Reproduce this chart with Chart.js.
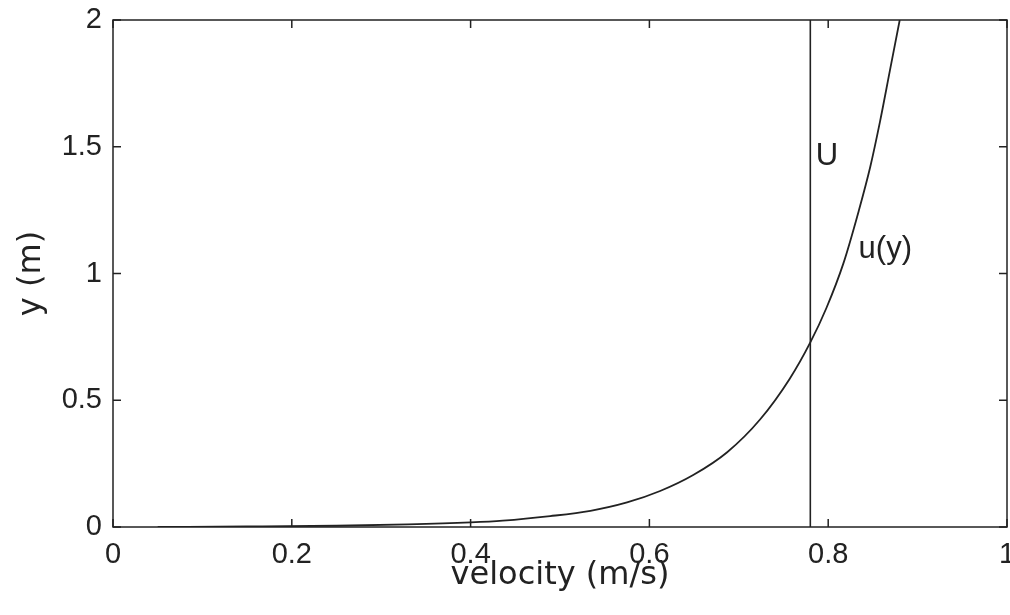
<!DOCTYPE html>
<html>
<head>
<meta charset="utf-8">
<script src="https://cdn.jsdelivr.net/npm/chart.js@4"></script>
<style>
  html, body { margin: 0; padding: 0; background: #fff; }
  #wrap { width: 1010px; height: 615px; }
</style>
</head>
<body>
<div id="wrap"><canvas id="velChart"></canvas></div>
<script>
// values
const velocity = [0.05, 0.15, 0.25, 0.33, 0.40, 0.436, 0.489, 0.534, 0.575, 0.612, 0.649, 0.687, 0.724, 0.757, 0.780, 0.798, 0.817, 0.834, 0.847, 0.858, 0.869, 0.880];
const height = [0.000, 0.002, 0.005, 0.010, 0.018, 0.025, 0.043, 0.064, 0.097, 0.142, 0.205, 0.295, 0.425, 0.585, 0.728, 0.864, 1.04, 1.245, 1.42, 1.60, 1.80, 2.0];
const freeStream = 0.780;
const yRange = [0, 2];
const xTicks = [0, 0.2, 0.4, 0.6, 0.8, 1];
const yTicks = [0, 0.5, 1, 1.5, 2];
const annotations = [
    { text: 'U', x: 0.786, y: 1.428 },
    { text: 'u(y)', x: 0.834, y: 1.061 }
];

const INK = '#222';

// MATLAB-style frame with inward ticks on every side
const framePlugin = {
    id: 'frame',
    afterDatasetsDraw(chart) {
        const { ctx, chartArea: a, scales } = chart;
        ctx.save();
        ctx.strokeStyle = INK;
        ctx.lineWidth = 1.5;
        ctx.strokeRect(a.left, a.top, a.right - a.left, a.bottom - a.top);
        ctx.beginPath();
        xTicks.forEach(v => {
            const px = scales.x.getPixelForValue(v);
            ctx.moveTo(px, a.bottom); ctx.lineTo(px, a.bottom - 8);
            ctx.moveTo(px, a.top); ctx.lineTo(px, a.top + 8);
        });
        yTicks.forEach(v => {
            const py = scales.y.getPixelForValue(v);
            ctx.moveTo(a.left, py); ctx.lineTo(a.left + 8, py);
            ctx.moveTo(a.right, py); ctx.lineTo(a.right - 8, py);
        });
        ctx.stroke();

        ctx.fillStyle = INK;
        ctx.font = '31px "Liberation Sans", Arial, sans-serif';
        ctx.textAlign = 'left';
        ctx.textBaseline = 'alphabetic';
        annotations.forEach(t => {
            ctx.fillText(t.text, scales.x.getPixelForValue(t.x), scales.y.getPixelForValue(t.y));
        });
        ctx.restore();
    }
};

function zeroPad(scale) {
    scale.paddingLeft = 0;
    scale.paddingRight = 0;
    scale.paddingTop = 0;
    scale.paddingBottom = 0;
}

const tickFont = { family: '"Liberation Sans", Arial, sans-serif', size: 29 };
const titleFont = { family: '"DejaVu Sans", sans-serif', size: 32 };

new Chart(document.getElementById('velChart'), {
    type: 'line',
    data: {
        datasets: [
            {
                label: 'u(y)',
                data: velocity.map((v, i) => ({ x: v, y: height[i] })),
                borderColor: INK,
                borderWidth: 1.8,
                pointRadius: 0,
                cubicInterpolationMode: 'monotone',
                fill: false
            },
            {
                label: 'U',
                data: yRange.map(y => ({ x: freeStream, y: y })),
                borderColor: INK,
                borderWidth: 1.6,
                pointRadius: 0,
                fill: false
            }
        ]
    },
    options: {
        responsive: true,
        maintainAspectRatio: false,
        animation: false,
        layout: { padding: { top: 20, right: 3, left: 0, bottom: 0 } },
        plugins: {
            legend: { display: false },
            tooltip: { enabled: false }
        },
        scales: {
            x: {
                type: 'linear',
                min: 0,
                max: 1,
                afterBuildTicks: (scale) => { scale.ticks = xTicks.map(v => ({ value: v })); },
                afterFit: (scale) => { scale.height = 88; zeroPad(scale); },
                border: { display: false },
                grid: { display: false, drawTicks: false },
                ticks: {
                    color: INK,
                    font: tickFont,
                    padding: 11,
                    maxRotation: 0,
                    callback: (v) => String(v)
                },
                title: {
                    display: true,
                    text: 'velocity (m/s)',
                    color: INK,
                    font: titleFont,
                    padding: { top: 0, bottom: 20 }
                }
            },
            y: {
                type: 'linear',
                min: 0,
                max: 2,
                afterBuildTicks: (scale) => { scale.ticks = yTicks.map(v => ({ value: v })); },
                afterFit: (scale) => { scale.width = 113; zeroPad(scale); },
                border: { display: false },
                grid: { display: false, drawTicks: false },
                ticks: {
                    color: INK,
                    font: tickFont,
                    padding: 11,
                    callback: (v) => String(v)
                },
                title: {
                    display: true,
                    text: 'y (m)',
                    color: INK,
                    font: titleFont,
                    padding: { top: 12, bottom: 0 }
                }
            }
        }
    },
    plugins: [framePlugin]
});
</script>
</body>
</html>
